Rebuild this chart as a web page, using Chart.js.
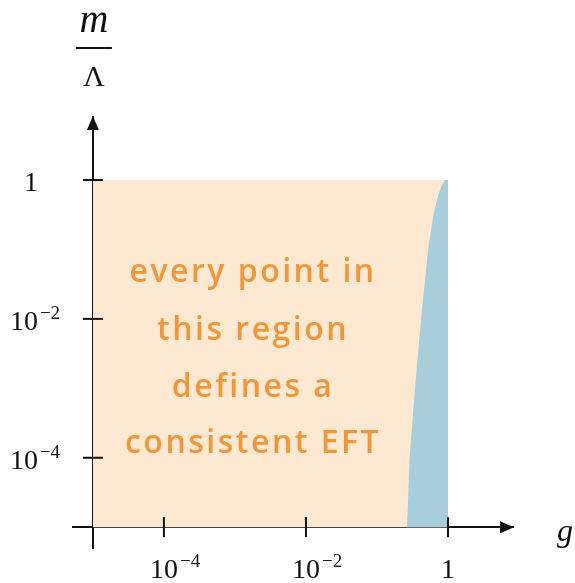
<!DOCTYPE html>
<html>
<head>
<meta charset="utf-8">
<script src="https://cdn.jsdelivr.net/npm/chart.js@4.4.1/dist/chart.umd.min.js"></script>
<style>
  html, body { margin: 0; padding: 0; background: #fff; }
  #wrap { width: 575px; height: 583px; }
</style>
</head>
<body>
<div id="wrap"><canvas id="canvas" width="575" height="583"></canvas></div>
<script>
// tick exponents (labels are 10^n, n = 0 shown as "1")
const xTickExps = [-4, -2, 0];
const yTickExps = [-4, -2, 0];

// allowed region: g from 1e-5 up to 1, m/Λ up to 1
const regionG = [1e-5, 1];
const regionTopM = 1;

// boundary of the excluded (blue) part near g ~ 1
const boundaryM = [1e-5, 1e-4, 1e-3, 1e-2, 1e-1, 0.3, 0.6, 0.85, 1];
const boundaryG = [0.265, 0.288, 0.343, 0.417, 0.525, 0.617, 0.724, 0.822, 0.912];

const noteLines = ['every point in', 'this region', 'defines a', 'consistent EFT'];
// where the note sits (data coords): centre g, baseline m for each line
const noteG = 1.8e-3;
const noteM = [10 ** -1.47, 10 ** -2.31, 10 ** -3.13, 10 ** -3.93];

const orange = '#fde8d1';
const blue = '#a8cedb';
const ink = '#111';
const serif = '"Liberation Serif", "DejaVu Serif", serif';

const orangeData = regionG.map(g => ({x: g, y: regionTopM}));
const blueData = boundaryM.map((m, i) => ({x: boundaryG[i], y: m}));
blueData.push({x: regionG[1], y: regionTopM});
blueData.push({x: regionG[1], y: boundaryM[0]});

function label(ctx, exp, x, y, align) {
    const base = exp === 0 ? '1' : '10';
    const sup = exp === 0 ? '' : '\u2212' + Math.abs(exp);
    ctx.font = '28px ' + serif;
    const bw = ctx.measureText(base).width;
    let left = x - bw / 2;
    if (align === 'right') left = x - bw;
    ctx.textAlign = 'left';
    ctx.textBaseline = 'alphabetic';
    ctx.fillText(base, left, y);
    if (sup) {
        ctx.font = '19px ' + serif;
        ctx.fillText(sup, left + bw + 2, y - 11);
    }
}

const axesDecor = {
    id: 'axesDecor',
    afterDatasetsDraw(chart) {
        const ctx = chart.ctx;
        const xs = chart.scales.x, ys = chart.scales.y;
        ctx.save();
        ctx.fillStyle = '#f0973b';
        ctx.font = '600 32px "Open Sans", sans-serif';
        ctx.letterSpacing = '2.5px';
        ctx.textAlign = 'center';
        ctx.textBaseline = 'alphabetic';
        noteLines.forEach((t, i) => {
            ctx.fillText(t, xs.getPixelForValue(noteG), ys.getPixelForValue(noteM[i]));
        });
        ctx.restore();
    },
    afterDraw(chart) {
        const ctx = chart.ctx;
        const xs = chart.scales.x, ys = chart.scales.y;
        const area = chart.chartArea;
        const ax = xs.getPixelForValue(1e-5);
        const ay = ys.getPixelForValue(1e-5);
        ctx.save();
        ctx.fillStyle = ink;
        ctx.strokeStyle = ink;
        ctx.lineWidth = 2;

        // arrow heads
        ctx.beginPath();
        ctx.moveTo(ax, area.top - 1);
        ctx.lineTo(ax - 6, area.top + 13);
        ctx.lineTo(ax + 6, area.top + 13);
        ctx.closePath();
        ctx.fill();
        ctx.beginPath();
        ctx.moveTo(area.right + 1, ay);
        ctx.lineTo(area.right - 13, ay - 6);
        ctx.lineTo(area.right - 13, ay + 6);
        ctx.closePath();
        ctx.fill();

        // tick marks crossing the axes, and their labels
        xTickExps.forEach(e => {
            const px = xs.getPixelForValue(10 ** e);
            ctx.beginPath();
            ctx.moveTo(px, ay - 10);
            ctx.lineTo(px, ay + 10);
            ctx.stroke();
            label(ctx, e, px, ay + 51, 'center');
        });
        yTickExps.forEach(e => {
            const py = ys.getPixelForValue(10 ** e);
            ctx.beginPath();
            ctx.moveTo(ax - 10, py);
            ctx.lineTo(ax + 10, py);
            ctx.stroke();
            label(ctx, e, ax - 55, py + 11, 'right');
        });

        // axis titles
        ctx.textAlign = 'center';
        ctx.textBaseline = 'alphabetic';
        ctx.font = 'italic 40px ' + serif;
        ctx.fillText('m', ax + 1, 32);
        ctx.fillRect(ax - 17, 47, 36, 2);
        ctx.font = '30px ' + serif;
        ctx.fillText('\u039B', ax + 1, 86);
        ctx.font = 'italic 32px ' + serif;
        ctx.fillText('g', 565, 541);
        ctx.restore();
    }
};

const ctx = document.getElementById('canvas').getContext('2d');
const myChart = new Chart(ctx, {
    type: 'line',
    data: {
        // first dataset is painted last, so the blue part goes first
        datasets: [{
            data: blueData,
            backgroundColor: blue,
            borderWidth: 0,
            pointRadius: 0,
            tension: 0,
            fill: {value: 1e-5}
        }, {
            data: orangeData,
            backgroundColor: orange,
            borderWidth: 0,
            pointRadius: 0,
            fill: {value: 1e-5}
        }]
    },
    options: {
        responsive: false,
        animation: false,
        devicePixelRatio: 1,
        layout: { padding: {left: 73, right: 62, top: 117, bottom: 35} },
        plugins: { legend: {display: false}, tooltip: {enabled: false} },
        scales: {
            x: {
                type: 'logarithmic',
                min: 10 ** -5.28,
                max: 10 ** 0.915,
                position: {y: 1e-5},
                z: 1,
                grid: {display: false},
                ticks: {display: false},
                border: {color: ink, width: 2}
            },
            y: {
                type: 'logarithmic',
                min: 10 ** -5.3,
                max: 10 ** 0.908,
                position: {x: 1e-5},
                z: 1,
                grid: {display: false},
                ticks: {display: false},
                border: {color: ink, width: 2}
            }
        }
    },
    plugins: [axesDecor]
});
</script>
</body>
</html>
